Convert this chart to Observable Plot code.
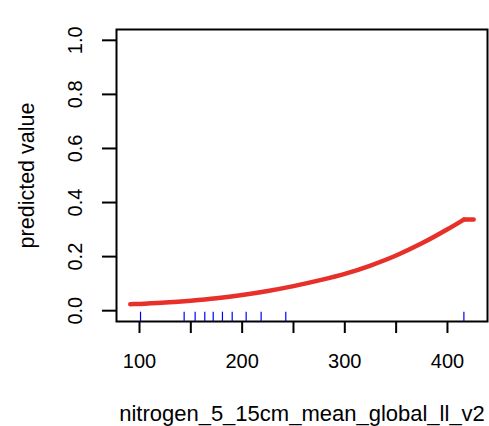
<!DOCTYPE html>
<html>
<head>
<meta charset="utf-8">
<script src="https://cdn.jsdelivr.net/npm/d3@7"></script>
<script src="https://cdn.jsdelivr.net/npm/@observablehq/plot@0.6"></script>
<style>
  html, body { margin: 0; padding: 0; background: #fff; }
  #chart svg { display: block; }
</style>
</head>
<body>
<div id="chart"></div>
<script>
// Partial-dependence curve values
const nitrogen = [91, 100, 125, 150, 175, 200, 225, 250, 275, 300, 325, 350, 375, 400, 416, 425.5];
const predicted = [0.024, 0.025, 0.030, 0.037, 0.046, 0.058, 0.073, 0.091, 0.112, 0.136, 0.167, 0.204, 0.249, 0.301, 0.337, 0.337];
// rug (deciles) of observed nitrogen values
const rugValues = [101, 143.5, 154.2, 163.6, 171.8, 180.8, 190.3, 203.9, 218.5, 242.5, 416];
const xTicks = [100, 150, 200, 250, 300, 350, 400];
const yTicks = [0, 0.2, 0.4, 0.6, 0.8, 1.0];
const xTitle = "nitrogen_5_15cm_mean_global_ll_v2";
const yTitle = "predicted value";

const curve = nitrogen.map((x, i) => ({x, y: predicted[i]}));
const kink = 416;
const font = "'Liberation Sans', Arial, Helvetica, sans-serif";

const chart = Plot.plot({
  width: 489,
  height: 426,
  marginLeft: 116,
  marginRight: 2,
  marginTop: 29,
  marginBottom: 105,
  style: {fontFamily: font, background: "#fff", color: "#000"},
  x: {domain: [77.6, 439]},
  y: {domain: [-0.04, 1.04]},
  marks: [
    Plot.frame({stroke: "#000", strokeWidth: 2}),
    Plot.axisX({ticks: xTicks, tickSize: 12, tickPadding: 20, strokeWidth: 2,
      tickFormat: d => d % 100 === 0 ? String(d) : "", fontSize: 20, label: null}),
    Plot.axisY({ticks: yTicks, tickSize: 14, strokeWidth: 2, tickFormat: () => "", label: null}),
    Plot.text(yTicks, {y: d => d, text: d => d.toFixed(1), frameAnchor: "left", dx: -40.5,
      rotate: -90, textAnchor: "middle", lineAnchor: "middle", fontSize: 20, fill: "#000"}),
    Plot.text([yTitle], {text: d => d, frameAnchor: "left", dx: -89, rotate: -90,
      textAnchor: "middle", lineAnchor: "middle", fontSize: 21.5, fill: "#000"}),
    Plot.text([xTitle], {text: d => d, frameAnchor: "bottom", dy: 92,
      textAnchor: "middle", lineAnchor: "middle", fontSize: 22, fill: "#000"}),
    Plot.ruleX(rugValues, {x: d => d, y1: -0.04, y2: -0.0056, stroke: "#0000ff", strokeWidth: 1.2}),
    Plot.line(curve.filter(d => d.x <= kink), {x: "x", y: "y", stroke: "#e8302a", strokeWidth: 4.5, curve: "monotone-x"}),
    Plot.line(curve.filter(d => d.x >= kink), {x: "x", y: "y", stroke: "#e8302a", strokeWidth: 4.5})
  ]
});
document.getElementById("chart").appendChild(chart);
</script>
</body>
</html>
